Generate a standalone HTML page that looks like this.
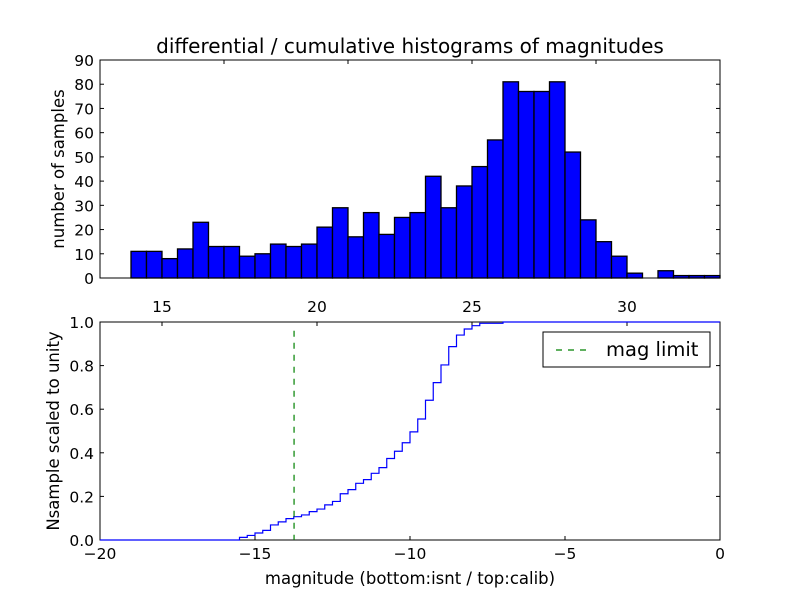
<!DOCTYPE html>
<html><head><meta charset="utf-8"><style>
body{margin:0;background:#fff;}
svg{display:block;font-family:"DejaVu Sans","Liberation Sans",sans-serif;}
</style></head><body>
<svg id="fig" width="800" height="600" viewBox="0 0 800 600">
<rect width="800" height="600" fill="#fff"/>
<g id="top"></g>
<g id="bot"></g>
</svg>
<script>
// Histogram data (calib magnitude bins, width 0.5 from 14.0)
const binStart = 14.0;
const binWidth = 0.5;
const counts = [11,11,8,12,23,13,13,9,10,14,13,14,21,29,17,27,18,25,27,42,29,38,46,57,81,77,77,81,52,24,15,9,2,0,3,1,1,1];
const topYTicks = [0,10,20,30,40,50,60,70,80,90];
const topXTickVals = [17,21,25,29];
// Cumulative data (isnt magnitude step starts, fraction)
const cumX = [-15.5,-15.25,-15,-14.75,-14.5,-14.25,-14,-13.75,-13.5,-13.25,-13,-12.75,-12.5,-12.25,-12,-11.75,-11.5,-11.25,-11,-10.75,-10.5,-10.25,-10,-9.75,-9.5,-9.25,-9,-8.75,-8.5,-8.25,-8,-7.75,-7.0];
const cumY = [0.012,0.021,0.032,0.044,0.069,0.083,0.098,0.107,0.115,0.130,0.142,0.161,0.177,0.212,0.231,0.260,0.277,0.306,0.332,0.374,0.407,0.446,0.496,0.555,0.641,0.722,0.803,0.887,0.940,0.968,0.983,0.994,1.0];
const botXTicks = [-20,-15,-10,-5,0];
const botYTicks = [0.0,0.2,0.4,0.6,0.8,1.0];
const calibTicks = [15,20,25,30];
const calibOffset = 33;
const magLimit = -13.74;

const NS="http://www.w3.org/2000/svg";
function mk(tag,attrs,parent,txt){const e=document.createElementNS(NS,tag);for(const k in attrs)e.setAttribute(k,attrs[k]);if(txt!==undefined)e.textContent=txt;parent.appendChild(e);return e;}

// top panel
const T=document.getElementById('top');
const L=100,R=720,tT=60,tB=278;
const tx=m=>L+(m-13)/(33-13)*(R-L);
const ty=v=>tB-v/90*(tB-tT);
counts.forEach((c,i)=>{
  const x0=tx(binStart+i*binWidth),x1=tx(binStart+(i+1)*binWidth);
  const r=mk('rect',{x:x0,y:ty(c),width:x1-x0,height:tB-ty(c),fill:'#0000ff',stroke:'#000','stroke-width':1.3},T);
  
  
});
mk('rect',{x:L,y:tT,width:R-L,height:tB-tT,fill:'none',stroke:'#000','stroke-width':1},T);
topYTicks.forEach(v=>{
  const y=ty(v);
  mk('line',{x1:L,y1:y,x2:L+4,y2:y,stroke:'#000'},T);
  mk('line',{x1:R,y1:y,x2:R-4,y2:y,stroke:'#000'},T);
  const t=mk('text',{x:L-6,y:y+6,'text-anchor':'end','font-size':15.5},T,String(v));
  
  
});
topXTickVals.forEach(v=>{
  const x=tx(v);
  mk('line',{x1:x,y1:tT,x2:x,y2:tT+4,stroke:'#000'},T);
  mk('line',{x1:x,y1:tB,x2:x,y2:tB-4,stroke:'#000'},T);
});
mk('text',{x:410,y:53,'text-anchor':'middle','font-size':20,},T,'differential / cumulative histograms of magnitudes');
mk('text',{x:0,y:0,transform:'translate(64,169) rotate(-90)','text-anchor':'middle','font-size':16.5,},T,'number of samples');

// bottom panel
const B=document.getElementById('bot');
const bT=322,bB=540;
const bx=m=>L+(m+20)/20*(R-L);
const by=v=>bB-v*(bB-bT);
mk('rect',{x:L,y:bT,width:R-L,height:bB-bT,fill:'none',stroke:'#000','stroke-width':1},B);
botXTicks.forEach(v=>{
  const x=bx(v);
  mk('line',{x1:x,y1:bB,x2:x,y2:bB-4,stroke:'#000'},B);
  const t=mk('text',{x:x,y:bB+19,'text-anchor':'middle','font-size':15.5},B,v<0?'\u2212'+Math.abs(v):String(v));
  
  
});
calibTicks.forEach(v=>{
  const x=bx(v-calibOffset);
  mk('line',{x1:x,y1:bT,x2:x,y2:bT+4,stroke:'#000'},B);
  const t=mk('text',{x:x,y:bT-10,'text-anchor':'middle','font-size':15.5},B,String(v));
  
  
});
botYTicks.forEach(v=>{
  const y=by(v);
  mk('line',{x1:L,y1:y,x2:L+4,y2:y,stroke:'#000'},B);
  mk('line',{x1:R,y1:y,x2:R-4,y2:y,stroke:'#000'},B);
  const t=mk('text',{x:L-6,y:y+6,'text-anchor':'end','font-size':15.5},B,v.toFixed(1));
  
  
});
let d='M'+bx(-20)+','+by(0);
let prev=0;
cumX.forEach((m,i)=>{d+=' L'+bx(m)+','+by(prev)+' L'+bx(m)+','+by(cumY[i]);prev=cumY[i];});
d+=' L'+bx(0)+','+by(prev);
const p=mk('path',{d:d,fill:'none',stroke:'#0000ff','stroke-width':1.2},B);


mk('line',{x1:bx(magLimit),y1:by(0.96),x2:bx(magLimit),y2:bB,stroke:'#008000','stroke-width':1.2,'stroke-dasharray':'6,6',},B);
const lg=mk('g',{},B);
mk('rect',{x:543,y:332,width:167,height:35,fill:'#fff',stroke:'#000'},lg);
mk('line',{x1:556,y1:350,x2:590,y2:350,stroke:'#008000','stroke-width':1.2,'stroke-dasharray':'6,6'},lg);
mk('text',{x:606,y:356,'font-size':19.5,},lg,'mag limit');
mk('text',{x:410,y:584,'text-anchor':'middle','font-size':16.5,},B,'magnitude (bottom:isnt / top:calib)');
mk('text',{x:0,y:0,transform:'translate(59,431) rotate(-90)','text-anchor':'middle','font-size':16.5,},B,'Nsample scaled to unity');
</script>
</body></html>
